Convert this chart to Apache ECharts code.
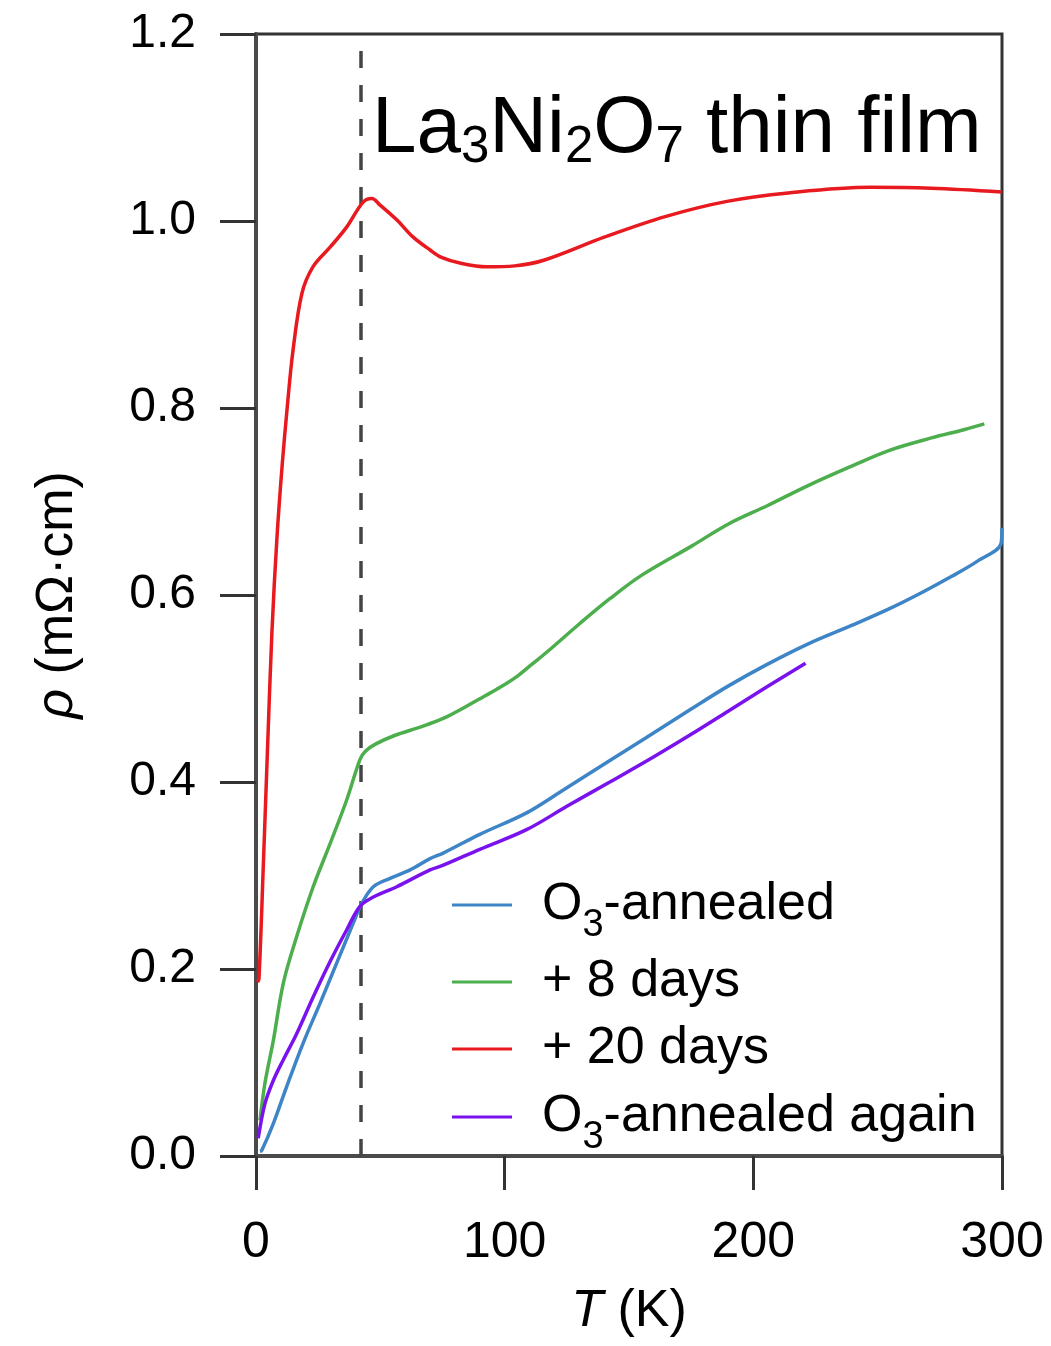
<!DOCTYPE html>
<html>
<head>
<meta charset="utf-8">
<script src="https://cdn.jsdelivr.net/npm/echarts@6/dist/echarts.min.js"></script>
<style>
html,body{margin:0;padding:0;background:#fff;}
#chart{width:1051px;height:1346px;}
</style>
</head>
<body>
<div id="chart"></div>
<script>
// ---- data (T in K, rho in mOhm.cm) ----
const seriesNames = ['O3-annealed', '+ 8 days', '+ 20 days', 'O3-annealed again'];

const o3Annealed = [
  [1.6,0.005],[2.3,0.006],[7,0.035],[12.3,0.074],[19,0.121],[25.7,0.163],[32.4,0.206],
  [39.1,0.249],[42.5,0.270],[47.2,0.288],[53.9,0.297],[62,0.306],[70,0.318],[75.3,0.324],
  [90,0.344],[108.8,0.367],[123.9,0.392],[142.3,0.423],[156.7,0.447],[175,0.478],
  [189.5,0.502],[205,0.525],[222.3,0.548],[240,0.568],[255.2,0.586],[268,0.603],
  [279.8,0.620],[290,0.636],[299.6,0.655],[300,0.672]
];

const plus8Days = [
  [1.6,0.038],[3.6,0.078],[7,0.124],[11,0.185],[16.4,0.235],[23,0.288],[29.8,0.334],
  [36.5,0.381],[41.8,0.424],[44,0.433],[48.4,0.441],[56,0.450],[66.3,0.459],[75.3,0.468],
  [84,0.480],[92,0.492],[98,0.501],[105,0.513],[111,0.526],[117,0.539],[130,0.569],
  [142.3,0.596],[155,0.621],[175,0.652],[190,0.676],[206,0.696],[222,0.717],[238.8,0.737],
  [255,0.755],[271.6,0.768],[285,0.777],[292.9,0.783]
];

const plus20Days = [
  [0.6,0.186],[1.2,0.190],[3.0,0.315],[4.6,0.433],[6.4,0.560],[8.4,0.660],[10.5,0.738],
  [12.6,0.802],[14.9,0.862],[18.5,0.923],[22.9,0.951],[29.8,0.972],[36.6,0.994],
  [43.0,1.020],[46.6,1.024],[49.9,1.017],[56.7,1.001],[63.1,0.983],[70.0,0.969],
  [74.6,0.961],[82,0.955],[92.7,0.951],[104,0.952],[115.7,0.958],[140.3,0.983],
  [164.9,1.005],[189.4,1.021],[214,1.030],[247,1.036],[271.6,1.035],[299.9,1.031]
];

const o3AnnealedAgain = [
  [0.9,0.019],[3.6,0.056],[7,0.081],[11,0.103],[16.4,0.131],[23,0.170],[29.8,0.208],
  [36.5,0.242],[41.8,0.267],[47.2,0.277],[56.6,0.288],[70,0.306],[75.3,0.311],[90,0.328],
  [108.8,0.349],[125,0.374],[142.3,0.400],[160,0.427],[175,0.451],[190,0.476],
  [205,0.501],[221,0.527]
];

const tcLine = 42;   // dashed vertical marker (K)

const xTickValues = [0, 100, 200, 300];
const yTickLabels = ['0.0', '0.2', '0.4', '0.6', '0.8', '1.0', '1.2'];

const colors = ['#3d85c6', '#4cae4c', '#e8191f', '#7a12ee'];

// ---- chart ----
const FONT = 'Liberation Sans';
const chart = echarts.init(document.getElementById('chart'), null, {renderer: 'canvas'});

function legendLabel(name) {
  if (name.indexOf('O3') === 0) return '{n|O}{s|3}{n|' + name.slice(2) + '}';
  return '{n|' + name + '}';
}
const legendRich = {
  n: {fontSize: 52, fontFamily: FONT, color: '#000', lineHeight: 54},
  s: {fontSize: 38, fontFamily: FONT, color: '#000', lineHeight: 16,
      verticalAlign: 'top', padding: [29, 0, 0, 0]}
};
const legendCenters = [905, 983, 1050, 1117];

const legends = seriesNames.map((nm, i) => ({
  data: [{name: nm, icon: 'rect'}],
  orient: 'vertical',
  left: 452,
  top: legendCenters[i] - 27,
  padding: 0,
  itemWidth: 60,
  itemHeight: 3,
  selectedMode: false,
  formatter: legendLabel,
  textStyle: {padding: [0, 0, 0, 25], rich: legendRich}
}));

const dataSets = [o3Annealed, plus8Days, plus20Days, o3AnnealedAgain];

const series = dataSets.map((d, i) => ({
  name: seriesNames[i],
  type: 'line',
  data: d,
  symbol: 'none',
  smooth: 0.35,
  lineStyle: {width: 3.5, color: colors[i]},
  itemStyle: {color: colors[i]},
  z: 3
}));

series[0].markLine = {
  silent: true,
  symbol: ['none', 'none'],
  label: {show: false},
  lineStyle: {type: [17, 17], color: '#444', width: 3.5},
  emphasis: {disabled: true},
  data: [{xAxis: tcLine}],
  z: 2
};

chart.setOption({
  animation: false,
  backgroundColor: '#fff',
  title: {
    text: '{n|La}{s|3}{n|Ni}{s|2}{n|O}{s|7}{n| thin film}',
    left: 372,
    top: 89,
    padding: 0,
    textStyle: {
      fontWeight: 'normal',
      rich: {
        n: {fontSize: 80, fontFamily: FONT, fontWeight: 'normal', color: '#000', lineHeight: 82},
        s: {fontSize: 51, fontFamily: FONT, fontWeight: 'normal', color: '#000', lineHeight: 20,
            verticalAlign: 'top', padding: [33, 0, 0, 0]}
      }
    }
  },
  legend: legends,
  grid: {
    left: 256, right: 49, top: 34, bottom: 190,
    show: true, borderColor: '#333', borderWidth: 3, backgroundColor: 'transparent'
  },
  xAxis: {
    type: 'value',
    min: 0, max: 300, interval: 100,
    name: '{i|T} (K)',
    nameLocation: 'middle',
    nameGap: 130,
    nameTextStyle: {
      fontSize: 52, fontFamily: FONT, color: '#000',
      rich: {i: {fontSize: 52, fontFamily: FONT, fontStyle: 'italic', color: '#000'}}
    },
    axisLine: {show: true, lineStyle: {color: '#4a4a4a', width: 4}},
    axisTick: {show: true, inside: false, length: 34, lineStyle: {color: '#333', width: 3}},
    axisLabel: {
      margin: 62, fontSize: 50, fontFamily: FONT, color: '#000',
      formatter: v => (xTickValues.indexOf(v) >= 0 ? String(v) : '')
    },
    splitLine: {show: false}
  },
  yAxis: {
    type: 'value',
    min: 0, max: 1.2, interval: 0.2,
    name: '{i|ρ} (mΩ·cm)',
    nameLocation: 'middle',
    nameGap: 172,
    nameTextStyle: {
      fontSize: 52, fontFamily: FONT, color: '#000',
      rich: {i: {fontSize: 52, fontFamily: FONT, fontStyle: 'italic', color: '#000'}}
    },
    axisLine: {show: true, lineStyle: {color: '#4a4a4a', width: 4}},
    axisTick: {show: true, inside: false, length: 36, lineStyle: {color: '#333', width: 3}},
    axisLabel: {
      margin: 60, fontSize: 48, fontFamily: FONT, color: '#000',
      formatter: v => yTickLabels[Math.round(v / 0.2)]
    },
    splitLine: {show: false}
  },
  series: series
});
</script>
</body>
</html>
